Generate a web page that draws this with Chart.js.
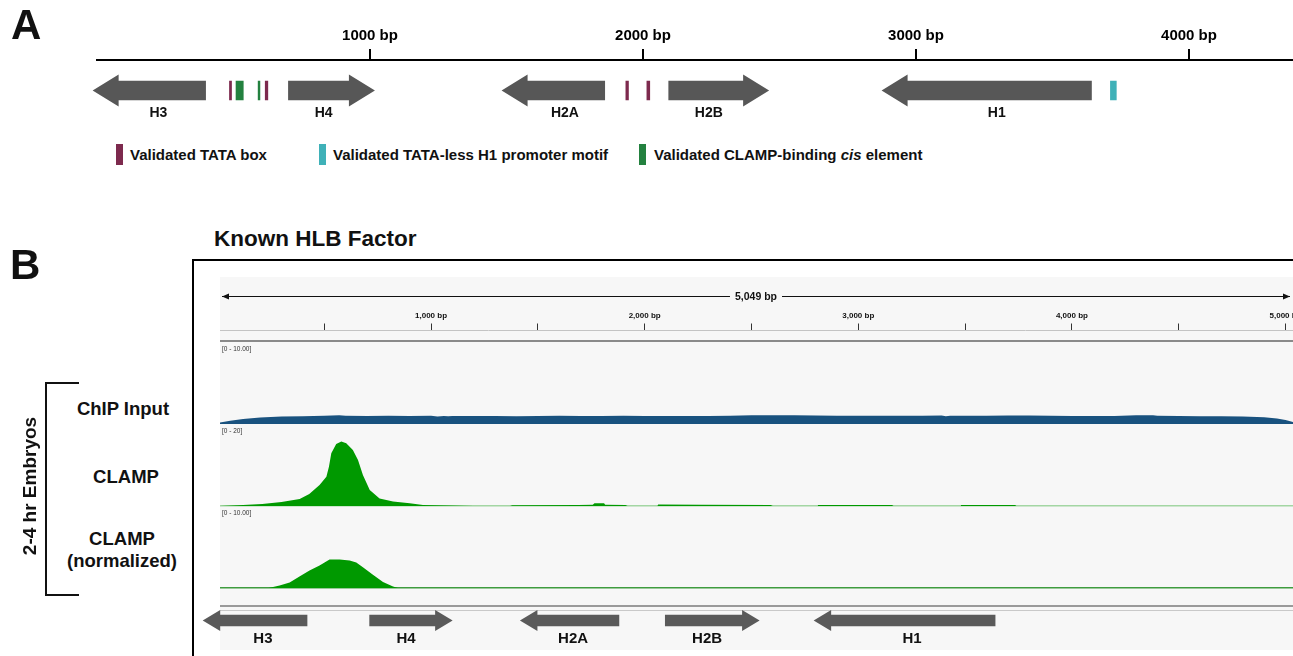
<!DOCTYPE html>
<html>
<head>
<meta charset="utf-8">
<script src="https://cdn.jsdelivr.net/npm/chart.js@4.4.1/dist/chart.umd.min.js"></script>
<style>
  html, body { margin: 0; padding: 0; background: #fff; }
  body { width: 1293px; height: 656px; position: relative; overflow: hidden;
         font-family: "Liberation Sans", Arial, sans-serif; color: #111; }
  canvas { position: absolute; }
  .txt { position: absolute; line-height: 1; white-space: nowrap; font-weight: bold; }
  .box { position: absolute; }
</style>
</head>
<body>
<!-- фон и рамки панели B -->
<div class="box" style="left:192px;top:259px;width:1200px;height:500px;border-left:2px solid #000;border-top:2px solid #000;"></div>
<div class="box" style="left:220px;top:277px;width:1073px;height:373px;background:#f7f7f7;"></div>
<div class="box" style="left:220px;top:340px;width:1073px;height:2px;background:#8a8a8a;"></div>
<div class="box" style="left:220px;top:604.5px;width:1073px;height:2px;background:#9a9a9a;"></div>
<div class="box" style="left:220px;top:609.5px;width:1073px;height:1px;background:#c9c9c9;"></div>
<div class="box" style="left:45px;top:382px;width:32px;height:210px;border:2px solid #111;border-right:none;"></div>

<canvas id="mapA" width="1293" height="130" style="left:0;top:0"></canvas>
<canvas id="ruler" width="1073" height="68" style="left:220px;top:277px"></canvas>
<canvas id="trackInput" width="1073" height="81" style="left:220px;top:344px"></canvas>
<canvas id="trackClamp" width="1073" height="81" style="left:220px;top:426px"></canvas>
<canvas id="trackNorm" width="1073" height="81" style="left:220px;top:508px"></canvas>
<canvas id="genesB" width="1098" height="45" style="left:195px;top:608px"></canvas>

<script>
// --- Данные ---
const FONT = '"Liberation Sans", Arial, sans-serif';

// Панель A: схема локуса
const A_MIN = 0, A_MAX = 4381;
const A_TICKS = [1000, 2000, 3000, 4000];
const A_GENE_NAMES = ['H3', 'H4', 'H2A', 'H2B', 'H1'];
const A_GENE_TAIL = [399, 700, 1861, 2093, 3644];
const A_GENE_TIP = [-16, 1018, 1482, 2462, 2874];
const A_GENE_LABEL = [225, 830, 1714, 2241, 3296];
const A_MOTIF_START = [484, 508, 589, 615, 1936, 2013, 3711];
const A_MOTIF_END = [494, 537, 598, 627, 1948, 2026, 3735];
const A_MOTIF_TYPE = ['tata', 'clamp', 'clamp', 'tata', 'tata', 'tata', 'h1'];
const MOTIF_COLORS = { tata: '#7d2a4e', h1: '#3fb1b8', clamp: '#23813f' };

// Панель B: IGV-окно
const VIEW_START = 12, VIEW_END = 5035;
const REGION_LENGTH = 5049;
const RULER_TICKS = [500, 1000, 1500, 2000, 2500, 3000, 3500, 4000, 4500, 5000];

const INPUT_POS = [12, 60, 120, 200, 300, 400, 500, 570, 600, 700, 800, 900, 1000, 1030, 1060, 1080, 1100, 1200, 1300, 1400, 1500, 1600, 1700, 1800, 1900, 2000, 2100, 2200, 2300, 2400, 2500, 2600, 2700, 2800, 2900, 3000, 3100, 3200, 3300, 3390, 3410, 3430, 3500, 3600, 3700, 3800, 3900, 4000, 4100, 4200, 4300, 4380, 4400, 4500, 4600, 4700, 4800, 4900, 4960, 5000, 5035];
const INPUT_VAL = [0.2, 0.4, 0.62, 0.8, 0.93, 0.98, 1.02, 1.1, 1.02, 1.0, 1.04, 1.0, 1.02, 0.95, 1.0, 0.96, 1.0, 1.0, 1.0, 0.98, 1.0, 1.02, 1.0, 1.0, 1.02, 1.0, 1.0, 1.0, 1.0, 1.02, 1.08, 1.08, 1.08, 1.06, 1.03, 1.02, 1.02, 1.02, 1.02, 1.06, 0.96, 1.04, 1.03, 1.04, 1.06, 1.05, 1.02, 1.0, 1.0, 1.0, 1.08, 1.08, 1.02, 1.0, 0.98, 0.98, 0.95, 0.85, 0.7, 0.5, 0.25];

const CLAMP_POS = [12, 120, 210, 300, 385, 430, 478, 510, 522, 533, 556, 580, 603, 634, 658, 681, 713, 759, 822, 900, 962, 1090, 1200, 1370, 1380, 1690, 1757, 1765, 1810, 1815, 1910, 1920, 2060, 2063, 2260, 2590, 2600, 2810, 2811, 3158, 3165, 3480, 3481, 3734, 3740, 5035];
const CLAMP_VAL = [0, 0.25, 0.5, 1.0, 1.75, 3.0, 5.25, 7.3, 9.8, 13.2, 15.5, 16.1, 15.7, 14.0, 11.5, 7.75, 4.0, 1.9, 1.1, 0.7, 0.25, 0.1, 0, 0, 0.2, 0.25, 0.3, 0.7, 0.7, 0.3, 0.25, 0, 0, 0.4, 0.3, 0.25, 0, 0, 0.25, 0.25, 0, 0, 0.25, 0.25, 0, 0];

const NORM_POS = [12, 240, 291, 338, 384, 431, 478, 517, 525, 572, 619, 650, 681, 728, 775, 822, 845, 5035];
const NORM_VAL = [0, 0, 0.3, 0.7, 1.45, 2.2, 2.8, 3.45, 3.55, 3.55, 3.45, 3.2, 2.6, 1.65, 0.75, 0.2, 0, 0];

const B_GENE_NAMES = ['H3', 'H4', 'H2A', 'H2B', 'H1'];
const B_GENE_TAIL = [421, 711, 1881, 2095, 3642];
const B_GENE_TIP = [-69, 1101, 1416, 2538, 2791];
const B_GENE_LABEL = [213, 883, 1665, 2292, 3252];

// --- Плагины ---

// Стрелки генов и метки мотивов по шкале x
const geneArrows = {
  id: 'geneArrows',
  afterDatasetsDraw(chart, args, o) {
    const { ctx } = chart;
    const x = chart.scales.x;
    ctx.save();
    (o.motifStart || []).forEach((s, i) => {
      const x0 = x.getPixelForValue(s), x1 = x.getPixelForValue(o.motifEnd[i]);
      ctx.fillStyle = MOTIF_COLORS[o.motifType[i]];
      ctx.fillRect(x0, o.y - o.body / 2, x1 - x0, o.body);
    });
    ctx.fillStyle = o.color;
    o.tail.forEach((t, i) => {
      const tail = x.getPixelForValue(t), tip = x.getPixelForValue(o.tip[i]);
      const dir = tip > tail ? 1 : -1;
      const base = tip - dir * o.head;
      ctx.beginPath();
      ctx.moveTo(tail, o.y - o.body / 2);
      ctx.lineTo(base, o.y - o.body / 2);
      ctx.lineTo(base, o.y - o.headH / 2);
      ctx.lineTo(tip, o.y);
      ctx.lineTo(base, o.y + o.headH / 2);
      ctx.lineTo(base, o.y + o.body / 2);
      ctx.lineTo(tail, o.y + o.body / 2);
      ctx.closePath();
      ctx.fill();
    });
    ctx.fillStyle = '#111';
    ctx.font = `bold ${o.fontSize}px ${FONT}`;
    ctx.textAlign = 'center';
    ctx.textBaseline = 'alphabetic';
    o.names.forEach((n, i) => {
      ctx.fillText(n, x.getPixelForValue(o.label[i]), o.labelY + o.fontSize * 0.358);
    });
    ctx.restore();
  }
};

// Двойная стрелка с длиной региона над линейкой
const rulerSpan = {
  id: 'rulerSpan',
  afterDraw(chart, args, o) {
    const { ctx } = chart;
    const x = chart.scales.x;
    const x0 = x.getPixelForValue(VIEW_START) + 2, x1 = x.getPixelForValue(VIEW_END) - 3;
    const label = REGION_LENGTH.toLocaleString('en-US') + ' bp';
    ctx.save();
    ctx.font = `bold 10.5px ${FONT}`;
    const w = ctx.measureText(label).width, mid = (x0 + x1) / 2;
    ctx.strokeStyle = '#111';
    ctx.fillStyle = '#111';
    ctx.lineWidth = 1;
    ctx.beginPath();
    ctx.moveTo(x0, o.y); ctx.lineTo(mid - w / 2 - 5, o.y);
    ctx.moveTo(mid + w / 2 + 5, o.y); ctx.lineTo(x1, o.y);
    ctx.stroke();
    [[x0, 1], [x1, -1]].forEach(([px, d]) => {
      ctx.beginPath();
      ctx.moveTo(px, o.y);
      ctx.lineTo(px + d * 7, o.y - 3);
      ctx.lineTo(px + d * 7, o.y + 3);
      ctx.closePath();
      ctx.fill();
    });
    ctx.textAlign = 'center';
    ctx.textBaseline = 'middle';
    ctx.fillText(label, mid, o.y + 1);
    ctx.restore();
  }
};

const noPlugins = { legend: { display: false }, tooltip: { enabled: false } };
const setTicks = list => scale => { scale.ticks = list.map(v => ({ value: v })); };
// фиксированная высота оси, чтобы линия шкалы попала точно на место
const fixAxis = h => scale => { scale.paddingLeft = 0; scale.paddingRight = 0; scale.height = h; };

// --- Панель A ---
new Chart(document.getElementById('mapA'), {
  type: 'scatter',
  data: { datasets: [] },
  options: {
    responsive: false, animation: false,
    layout: { padding: { left: 97, top: 22, right: 0, bottom: 0 } },
    plugins: {
      ...noPlugins,
      geneArrows: {
        y: 90.5, body: 19.5, headH: 32, head: 26, color: '#575757',
        tail: A_GENE_TAIL, tip: A_GENE_TIP, names: A_GENE_NAMES, label: A_GENE_LABEL,
        labelY: 112, fontSize: 14,
        motifStart: A_MOTIF_START, motifEnd: A_MOTIF_END, motifType: A_MOTIF_TYPE
      }
    },
    scales: {
      x: {
        type: 'linear', position: 'top', min: A_MIN, max: A_MAX,
        afterBuildTicks: setTicks(A_TICKS), afterFit: fixAxis(38),
        grid: { drawOnChartArea: false, drawTicks: true, tickLength: 11, lineWidth: 2, color: '#000' },
        border: { display: true, width: 2, color: '#000' },
        ticks: { padding: 4.5, color: '#000', autoSkip: false, maxRotation: 0,
                 font: { family: FONT, size: 15, weight: 'bold' }, callback: v => v + ' bp' }
      },
      y: { display: false, min: 0, max: 1 }
    }
  },
  plugins: [geneArrows]
});

// --- Панель B: линейка ---
new Chart(document.getElementById('ruler'), {
  type: 'scatter',
  data: { datasets: [] },
  options: {
    responsive: false, animation: false,
    layout: { padding: { top: 29.5, left: 0, right: 0, bottom: 0 } },
    plugins: { ...noPlugins, rulerSpan: { y: 19.5 } },
    scales: {
      x: {
        type: 'linear', position: 'top', min: VIEW_START, max: VIEW_END,
        afterBuildTicks: setTicks(RULER_TICKS), afterFit: fixAxis(24),
        grid: { drawOnChartArea: false, drawTicks: true, tickLength: 7, lineWidth: 1, color: '#333' },
        border: { display: true, width: 1, color: '#c4c4c4' },
        ticks: { padding: 2.5, color: '#111', autoSkip: false, maxRotation: 0,
                 font: { family: FONT, size: 8, weight: 'bold' },
                 callback: v => v % 1000 === 0 ? v.toLocaleString('en-US') + ' bp' : '' }
      },
      y: { display: false, min: 0, max: 1 }
    }
  },
  plugins: [rulerSpan]
});

// --- Панель B: треки покрытия ---
function trackChart(id, pos, val, yMax, fill, baseColor) {
  new Chart(document.getElementById(id), {
    type: 'line',
    data: {
      datasets: [{
        data: pos.map((p, i) => ({ x: p, y: val[i] })),
        fill: 'origin', backgroundColor: fill, borderWidth: 0, pointRadius: 0, tension: 0
      }]
    },
    options: {
      responsive: false, animation: false,
      layout: { padding: { bottom: 1 } },
      plugins: noPlugins,
      scales: {
        x: {
          type: 'linear', min: VIEW_START, max: VIEW_END,
          ticks: { display: false }, grid: { display: false, drawTicks: false },
          border: { display: !!baseColor, color: baseColor || 'transparent', width: 1.5 }
        },
        y: { display: false, min: 0, max: yMax }
      }
    }
  });
}

trackChart('trackInput', INPUT_POS, INPUT_VAL, 10, '#19527f', null);
trackChart('trackClamp', CLAMP_POS, CLAMP_VAL, 20, '#009900', '#a3d6a3');
trackChart('trackNorm', NORM_POS, NORM_VAL, 10, '#009900', '#3f9c3f');

// --- Панель B: гены ---
new Chart(document.getElementById('genesB'), {
  type: 'scatter',
  data: { datasets: [] },
  options: {
    responsive: false, animation: false,
    layout: { padding: { left: 25 } },
    plugins: {
      ...noPlugins,
      geneArrows: {
        y: 12.5, body: 11.5, headH: 21, head: 17.5, color: '#5a5a5a',
        tail: B_GENE_TAIL, tip: B_GENE_TIP, names: B_GENE_NAMES, label: B_GENE_LABEL,
        labelY: 29.5, fontSize: 15
      }
    },
    scales: {
      x: { display: false, type: 'linear', min: VIEW_START, max: VIEW_END },
      y: { display: false, min: 0, max: 1 }
    }
  },
  plugins: [geneArrows]
});

// --- Подписи ---
function addText(html, x, y, size, opts = {}) {
  const d = document.createElement('div');
  d.className = 'txt';
  d.innerHTML = html;
  d.style.left = x + 'px';
  d.style.top = y + 'px';
  d.style.fontSize = size + 'px';
  if (opts.weight) d.style.fontWeight = opts.weight;
  if (opts.color) d.style.color = opts.color;
  let tf = opts.anchor === 'left' ? 'translate(0,-50%)' : 'translate(-50%,-50%)';
  if (opts.rotate) tf += ` rotate(${opts.rotate}deg)`;
  d.style.transform = tf;
  document.body.appendChild(d);
}

function addSwatch(x, color) {
  const d = document.createElement('div');
  d.className = 'box';
  Object.assign(d.style, { left: x + 'px', top: '144px', width: '7px', height: '21px', background: color });
  document.body.appendChild(d);
}

addText('A', 11, 25, 42, { anchor: 'left' });
addText('B', 10, 265, 42, { anchor: 'left' });

addSwatch(116, MOTIF_COLORS.tata);
addText('Validated TATA box', 130, 154, 15, { anchor: 'left' });
addSwatch(319, MOTIF_COLORS.h1);
addText('Validated TATA-less H1 promoter motif', 333, 154, 15, { anchor: 'left' });
addSwatch(639, MOTIF_COLORS.clamp);
addText('Validated CLAMP-binding <i>cis</i> element', 654, 154, 15, { anchor: 'left' });

addText('Known HLB Factor', 214, 239, 22.5, { anchor: 'left' });

addText('[0 - 10.00]', 222, 349, 6.5, { anchor: 'left', weight: 'normal', color: '#333' });
addText('[0 - 20]', 222, 431, 6.5, { anchor: 'left', weight: 'normal', color: '#333' });
addText('[0 - 10.00]', 222, 513, 6.5, { anchor: 'left', weight: 'normal', color: '#333' });

addText('ChIP Input', 123, 409, 18.5);
addText('CLAMP', 126, 477, 18.5);
addText('CLAMP', 122, 539, 18.5);
addText('(normalized)', 122, 561, 18.5);
addText('2-4 hr Embryos', 29, 486, 19, { rotate: -90 });
</script>
</body>
</html>
